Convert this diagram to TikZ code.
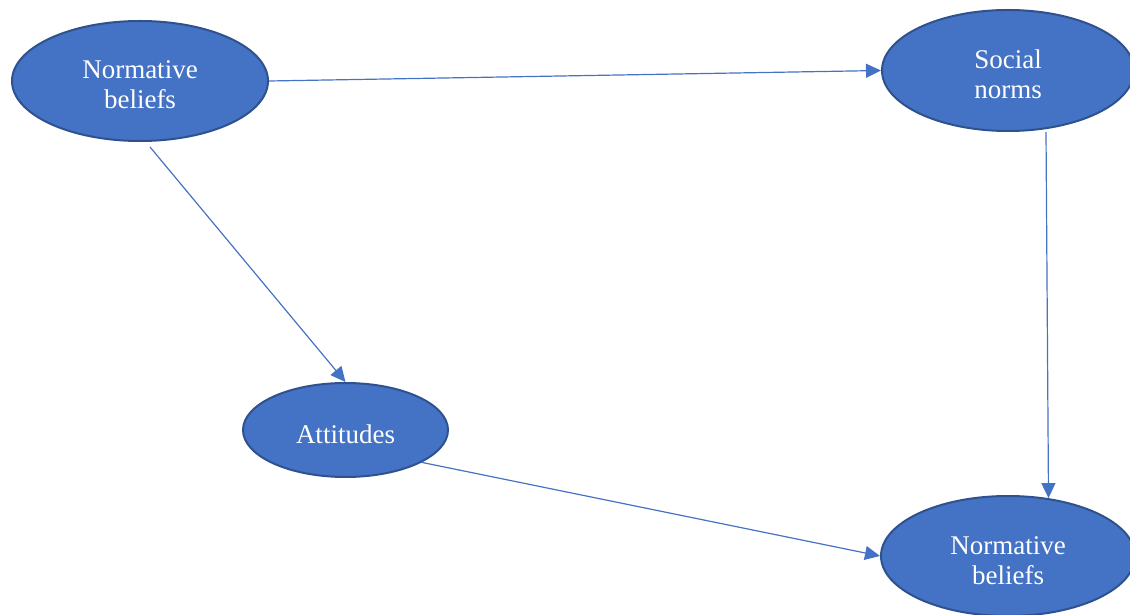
\documentclass[tikz,border=0pt]{standalone}
\usepackage{fontspec}
\setmainfont{Liberation Serif}
\usetikzlibrary{shapes.geometric,arrows.meta}
\definecolor{nodefill}{HTML}{4472C4}
\definecolor{nodeedge}{HTML}{2F528F}
\definecolor{linkblue}{HTML}{4472C4}
% centred label, padded on top so it sits a little below the bubble's middle
\newcommand{\bubbletext}[1]{\raisebox{0pt}[\dimexpr\height+14pt\relax][\depth]{\begin{tabular}{@{}c@{}}#1\end{tabular}}}
\begin{document}
\begin{tikzpicture}[x=1pt,y=1pt,
  bubble/.style={ellipse, draw=nodeedge, fill=nodefill, line width=2pt,
    inner sep=0pt, text=white,
    font=\fontsize{27}{30}\selectfont},
  link/.style={draw=linkblue, line width=1.2pt,
    -{Triangle[length=15pt,width=14pt]}}]
\useasboundingbox (0,0) rectangle (1130,614);
\clip (0,0) rectangle (1130,614);
\node[bubble, minimum width=256pt, minimum height=120pt] (nb1) at (140,533) {\bubbletext{Normative\\beliefs}};
\node[bubble, minimum width=252pt, minimum height=121pt] (sn) at (1008,543.5) {\bubbletext{Social\\norms}};
\node[bubble, minimum width=205pt, minimum height=94pt] (att) at (345.5,184) {\bubbletext{Attitudes}};
\node[bubble, minimum width=254pt, minimum height=120pt] (nb2) at (1008,58) {\bubbletext{Normative\\beliefs}};
\coordinate (nb1out) at (150,467);
\coordinate (snout) at (1046,482);
\draw[link] (nb1.east) -- (sn.west);
\draw[link] (nb1out) -- (att.north);
\draw[link] (snout) -- (nb2.55);
\draw[link] (att.-23) -- (nb2.west);
\end{tikzpicture}
\end{document}
